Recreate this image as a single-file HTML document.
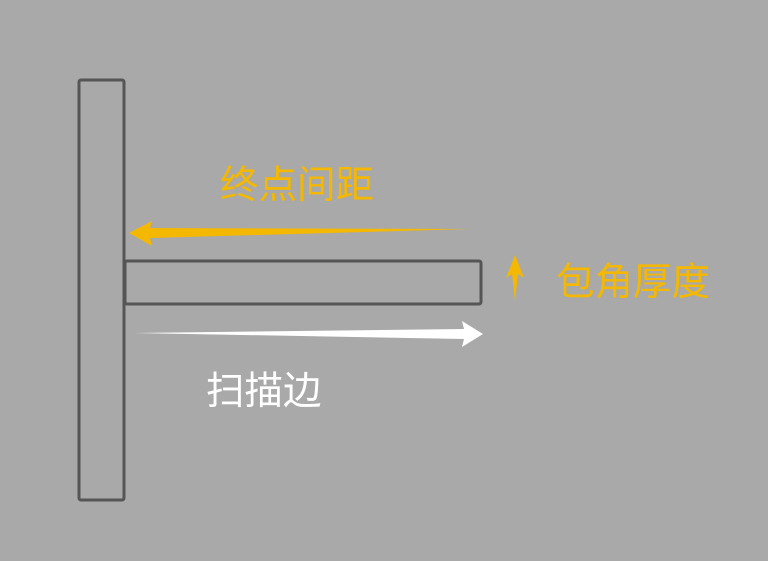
<!DOCTYPE html>
<html><head><meta charset="utf-8"><style>
html,body{margin:0;padding:0;background:#a9a9a9;width:768px;height:561px;overflow:hidden}
.t{position:absolute;font-family:"Liberation Sans","Noto Sans CJK SC",sans-serif;font-size:38.5px;line-height:1;white-space:nowrap}
</style></head><body>
<svg width="768" height="561" style="position:absolute;left:0;top:0">
<rect x="79" y="80" width="45" height="420" rx="2" fill="none" stroke="#555" stroke-width="3"/>
<rect x="125" y="261" width="356" height="43" rx="2" fill="#a9a9a9" stroke="#555" stroke-width="3"/>
<line x1="124" y1="261" x2="124" y2="304" stroke="#555" stroke-width="3"/>
<polygon points="470,229 150,228 152,221 129,233 152,246 150,238" fill="#f5b800"/>
<polygon points="134,333 464,329 462,321 483,334 462,347 464,339" fill="#fff"/>
<polygon points="515,255 506,278 512,274 515,301 518,274 524,278" fill="#f5b800"/>
</svg>
<div class="t" style="left:220px;top:167px;color:#f5b800">终点间距</div>
<div class="t" style="left:556px;top:264px;color:#f5b800">包角厚度</div>
<div class="t" style="left:206px;top:373px;color:#fff">扫描边</div>
</body></html>
